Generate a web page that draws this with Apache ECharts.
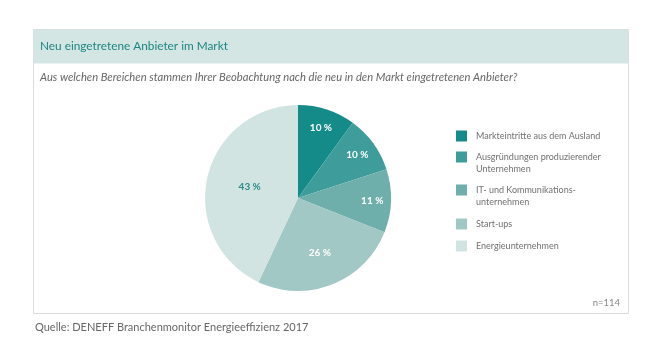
<!DOCTYPE html>
<html>
<head>
<meta charset="utf-8">
<script src="https://cdn.jsdelivr.net/npm/echarts@6/dist/echarts.min.js"></script>
<style>
  html, body {margin: 0; padding: 0; background: #fff;}
  #chart {width: 661px; height: 359px;}
</style>
</head>
<body>
<div id="chart"></div>
<script>
  const categories = [
    'Markteintritte aus dem Ausland',
    'Ausgründungen produzierender Unternehmen',
    'IT- und Kommunikations-unternehmen',
    'Start-ups',
    'Energieunternehmen'
  ];
  const values = [10, 10, 11, 26, 43];
  // legend text with line breaks as in the picture
  const legendLabels = [
    'Markteintritte aus dem Ausland',
    'Ausgründungen produzierender\nUnternehmen',
    'IT- und Kommunikations-\nunternehmen',
    'Start-ups',
    'Energieunternehmen'
  ];

  const colors = ['#148b89', '#3e9d9a', '#6eaeab', '#a2c8c5', '#d2e4e2'];
  const labelColors = ['#fff', '#fff', '#fff', '#fff', '#2b8a86'];
  const labelRadius = [0.75, 0.74, 0.75, 0.6, 0.5];
  const legendTops = [130, 139, 172, 218, 240];

  const cx = 298, cy = 198, r = 93;
  const font = 'Lato, "Open Sans", sans-serif';

  const legends = categories.map((name, i) => {
    const twoLine = legendLabels[i].indexOf('\n') >= 0;
    return {
      data: [name],
      orient: 'vertical',
      left: 456,
      top: legendTops[i],
      padding: 0,
      itemWidth: 11,
      itemHeight: 11,
      icon: 'rect',
      selectedMode: false,
      // an empty first line keeps the first text line level with the square
      formatter: () => (twoLine ? ' \n' : '') + legendLabels[i],
      textStyle: {
        color: '#707070',
        fontSize: 9,
        fontFamily: font,
        lineHeight: 12,
        padding: [0, 0, 0, 4]
      }
    };
  });

  const chart = echarts.init(document.getElementById('chart'));
  chart.setOption({
    animation: false,
    color: colors,
    graphic: [
      {type: 'rect', shape: {x: 33.5, y: 29.5, width: 595, height: 284}, style: {fill: '#fff', stroke: '#dcdcdc', lineWidth: 1}, z: -10},
      {type: 'rect', shape: {x: 33.5, y: 29.5, width: 595, height: 34}, style: {fill: '#d4e6e4', stroke: null}, z: -9},
      {type: 'text', left: 40, top: 40, style: {text: 'Neu eingetretene Anbieter im Markt', fill: '#1c8581', font: '11.8px ' + font}},
      {type: 'text', left: 40, top: 72, style: {text: 'Aus welchen Bereichen stammen Ihrer Beobachtung nach die neu in den Markt eingetretenen Anbieter?', fill: '#666', font: 'italic 11.2px ' + font}},
      {type: 'text', right: 41, top: 298, style: {text: 'n=114', fill: '#888', font: '9.5px ' + font}},
      {type: 'text', left: 35, top: 322, style: {text: 'Quelle: DENEFF Branchenmonitor Energieeffizienz 2017', fill: '#666', font: '11px ' + font}}
    ],
    legend: legends,
    series: [{
      type: 'pie',
      center: [cx, cy],
      radius: [0, r],
      startAngle: 90,
      clockwise: true,
      label: {
        show: true,
        position: 'inside',
        formatter: '{c} %',
        fontSize: 10,
        fontWeight: 'bold',
        fontFamily: font
      },
      labelLine: {show: false},
      labelLayout: function (params) {
        const rc = params.labelRect;
        const lx = rc.x + rc.width / 2, ly = rc.y + rc.height / 2;
        const f = labelRadius[params.dataIndex] / 0.5 - 1;
        return {dx: (lx - cx) * f, dy: (ly - cy) * f};
      },
      emphasis: {disabled: true},
      itemStyle: {borderWidth: 0},
      data: categories.map((name, i) => ({
        name: name,
        value: values[i],
        label: {color: labelColors[i]}
      }))
    }]
  });
</script>
</body>
</html>
